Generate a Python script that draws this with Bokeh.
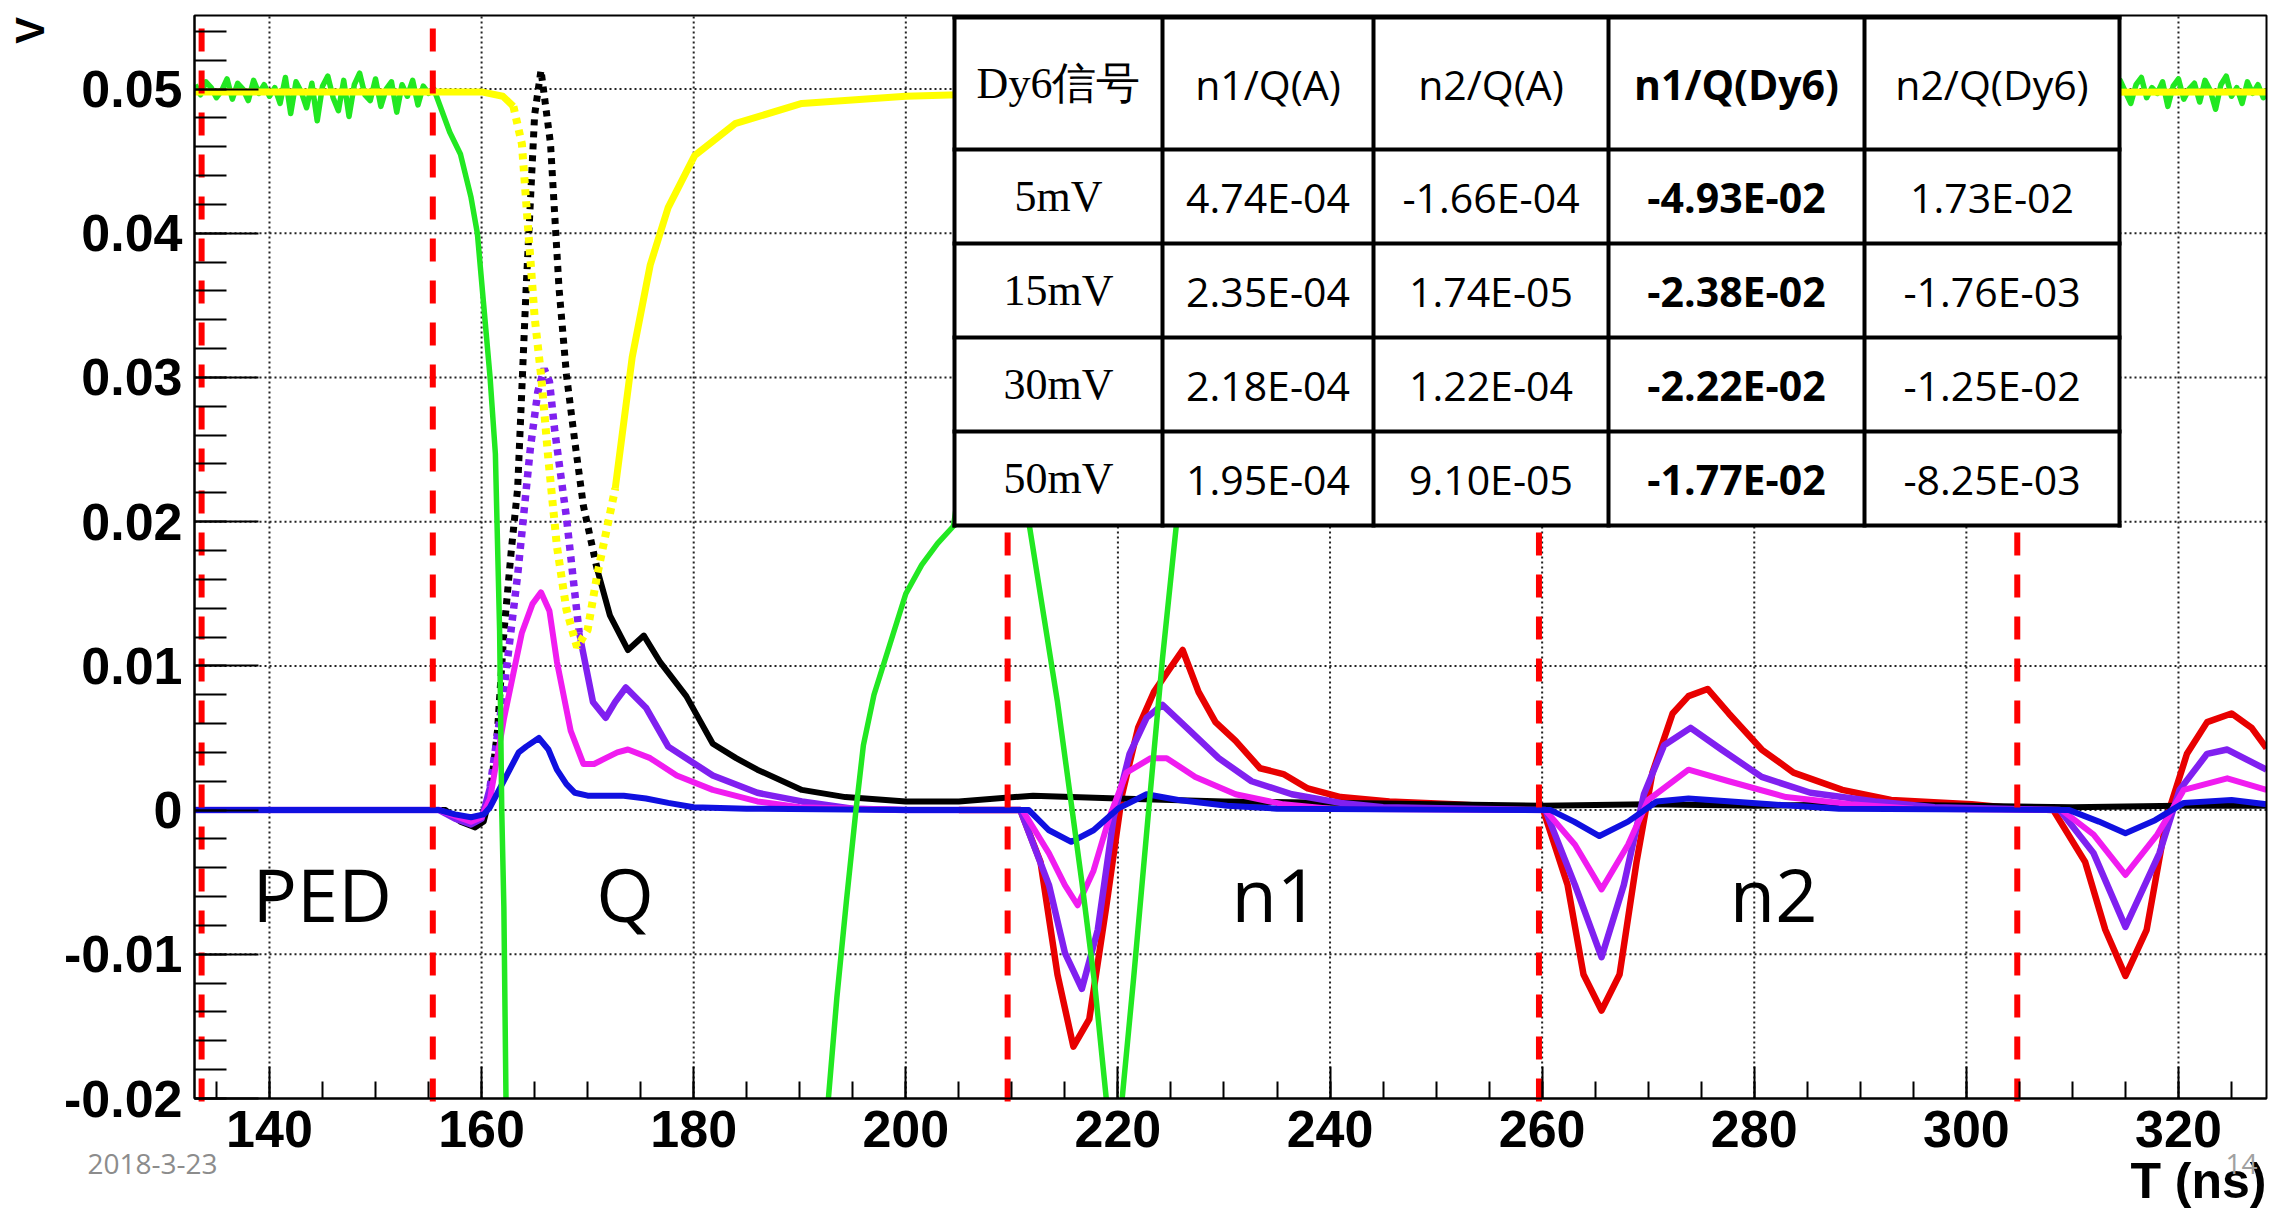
import numpy as np
from bokeh.plotting import figure
from bokeh.models import (Range1d, SingleIntervalTicker, CustomJSTickFormatter,
                          LinearAxis, ColumnDataSource)
from bokeh.core.properties import value
from bokeh.embed import file_html
from bokeh.resources import INLINE

# ------------------------------------------------------------------ data
black_x = [133, 156.6, 158.0, 159.4, 160.2, 160.8, 161.5, 162.1, 162.8, 163.4, 164.2, 165.0,
           165.6, 166.5, 167.3, 168.0, 168.8, 169.6, 170.9, 172.1, 173.8, 175.3, 176.8, 179.3,
           181.8, 184.0, 186.0, 190.2, 194.3, 200, 205, 212, 220, 230, 240, 250, 260, 270,
           280, 290, 300, 310, 320, 328.3]
black_y = [0, 0, -0.0008, -0.0012, -0.0008, 0.0010, 0.0055, 0.0123, 0.0180, 0.0223, 0.0362,
           0.0482, 0.0513, 0.0462, 0.0362, 0.0302, 0.0255, 0.0211, 0.0167, 0.0135, 0.0111,
           0.0121, 0.0103, 0.0079, 0.0046, 0.0036, 0.0028, 0.0014, 0.0009, 0.0006, 0.0006,
           0.0010, 0.0008, 0.0006, 0.0005, 0.0004, 0.0003, 0.0004, 0.0003, 0.0004, 0.0003,
           0.0002, 0.0003, 0.0003]

red_x = [205, 210.8, 212.7, 214.3, 215.8, 217.3, 218.9, 220.4, 221.9, 223.4, 224.6,
         226.1, 227.6, 229.2, 231.1, 233.4, 235.6, 237.9, 241.0, 245.6, 251.7, 259.3, 260.1,
         262.4, 263.9, 265.6, 267.3, 268.9, 270.4, 272.3, 273.8, 275.6, 277.6, 280.7, 283.7,
         288.3, 292.9, 300.5, 305, 308.2, 311.2, 313.1, 315.0, 317.0, 318.9, 320.8, 322.7,
         325.0, 326.9, 328.3]
red_y = [0, 0, -0.0036, -0.0114, -0.0164, -0.0145, -0.0067, 0.0011, 0.0057, 0.0082,
         0.0095, 0.0111, 0.0082, 0.0061, 0.0048, 0.0029, 0.0025, 0.0015, 0.0009, 0.0006,
         0.0004, 0.0001, 0, -0.0052, -0.0114, -0.0139, -0.0114, -0.0036, 0.0026, 0.0067,
         0.0079, 0.0084, 0.0067, 0.0042, 0.0026, 0.0014, 0.0007, 0.0004, 0.0001, 0, -0.0036,
         -0.0083, -0.0115, -0.0083, -0.0005, 0.0039, 0.0061, 0.0067, 0.0057, 0.0043]

purple_x = [133, 156, 157.5, 159, 160.0, 160.8, 162.1, 163.4, 164.6, 165.3, 165.9, 166.4,
            166.9, 168.0, 169.2, 170.5, 171.7, 172.6, 173.6, 175.5, 177.6, 181.8, 186.0,
            190.2, 195, 200, 210.8, 213.5, 215.0, 216.6, 218.1, 219.6, 221.1, 222.7, 224.2,
            226.5, 229.5, 232.6, 236.4, 241, 245, 260.3, 263.1, 265.6, 267.7, 269.6, 271.5,
            274.0, 276.9, 280.7, 285.3, 291.4, 297, 308.8, 312.0, 315.0, 318.2, 320.1, 322.7,
            324.6, 328.3]
purple_y = [0, 0, -0.0006, -0.0010, -0.0006, 0.0016, 0.0083, 0.0163, 0.0251, 0.0290, 0.0306,
            0.0297, 0.0263, 0.0203, 0.0123, 0.0075, 0.0064, 0.0075, 0.0085, 0.0071, 0.0044,
            0.0024, 0.0012, 0.0006, 0.0001, 0, 0, -0.0052, -0.0099, -0.0124, -0.0083,
            -0.0005, 0.0039, 0.0064, 0.0073, 0.0057, 0.0036, 0.0020, 0.0011, 0.0005, 0.0002,
            0, -0.0052, -0.0102, -0.0052, 0.0011, 0.0045, 0.0057, 0.0042, 0.0023, 0.0012,
            0.0006, 0.0002, 0, -0.0030, -0.0081, -0.0030, 0.0014, 0.0039, 0.0042, 0.0028]

magenta_x = [133, 156, 157.5, 159, 160.0, 160.8, 162.1, 163.0, 163.8, 164.8, 165.6, 166.4,
             167.1, 168.4, 169.6, 170.6, 171.7, 172.8, 173.8, 175.9, 178.4, 181.8, 186.0, 190,
             200, 211.0, 213.5, 215.0, 216.2, 217.7, 219.2, 220.8, 223.1, 224.6, 227.3, 231.1,
             235.6, 240, 260.3, 263.1, 265.6, 268.1, 270.0, 273.8, 277.6, 283.0, 289.1, 295,
             309, 312.0, 315.0, 318.0, 320.5, 324.6, 328.3]
magenta_y = [0, 0, -0.0004, -0.0008, -0.0005, 0.0008, 0.0063, 0.0095, 0.0123, 0.0143, 0.0151,
             0.0138, 0.0103, 0.0055, 0.0032, 0.0032, 0.0036, 0.0040, 0.0042, 0.0036, 0.0024,
             0.0014, 0.0006, 0.0002, 0, 0, -0.0030, -0.0052, -0.0066, -0.0042, -0.0005,
             0.0026, 0.0036, 0.0036, 0.0023, 0.0011, 0.0004, 0.0001, 0, -0.0024, -0.0055,
             -0.0024, 0.0007, 0.0028, 0.0020, 0.0009, 0.0004, 0.0001, 0, -0.0017, -0.0045,
             -0.0017, 0.0014, 0.0022, 0.0014]

blue_x = [133, 156, 157.5, 159, 160.2, 160.8, 161.5, 162.5, 163.5, 164.2, 165.4, 166.3,
          167.1, 168.0, 168.8, 170.0, 171.3, 173.4, 175.5, 177.6, 180, 185, 200, 211.6, 213.5,
          215.6, 217.7, 220.0, 222.7, 225.7, 230.3, 235, 260.8, 263.0, 265.4, 268.1, 270.8,
          273.8, 281.5, 288, 309.7, 312.5, 315.0, 317.8, 320.5, 325.0, 328.3]
blue_y = [0, 0, -0.0003, -0.0005, -0.0003, 0.0002, 0.0012, 0.0026, 0.0040, 0.0044, 0.0050,
          0.0042, 0.0028, 0.0018, 0.0012, 0.0010, 0.0010, 0.0010, 0.0008, 0.0005, 0.0002,
          0.0001, 0, 0, -0.0014, -0.0022, -0.0014, 0.0001, 0.0011, 0.0007, 0.0003, 0.0001,
          0, -0.0008, -0.0018, -0.0008, 0.0006, 0.0008, 0.0004, 0.0001, 0, -0.0008, -0.0016,
          -0.0007, 0.0005, 0.0007, 0.0004]

green_ped_x = [133.0, 133.5, 134.0, 134.5, 135.0, 135.5, 136.0, 136.5, 137.0, 137.5, 138.0,
               138.5, 139.0, 139.5, 140.0, 140.5, 141.0, 141.5, 142.0, 142.5, 143.0, 143.5,
               144.0, 144.5, 145.0, 145.5, 146.0, 146.5, 147.0, 147.5, 148.0, 148.5, 149.0,
               149.5, 150.0, 150.5, 151.0, 151.5, 152.0, 152.5, 153.0, 153.5, 154.0, 154.5,
               155.0, 155.5]
green_ped_y = [0.0503, 0.0496, 0.0505, 0.0501, 0.0494, 0.0499, 0.0507, 0.0493, 0.0504, 0.0500,
               0.0492, 0.0506, 0.0497, 0.0503, 0.0495, 0.0501, 0.0490, 0.0508, 0.0483, 0.0505,
               0.0498, 0.0487, 0.0504, 0.0478, 0.0502, 0.0509, 0.0494, 0.0485, 0.0506, 0.0481,
               0.0503, 0.0511, 0.0496, 0.0492, 0.0507, 0.0488, 0.0500, 0.0505, 0.0484, 0.0503,
               0.0495, 0.0506, 0.0489, 0.0502, 0.0497, 0.0500]
green_main_x = [156.0, 157.0, 158.0, 159.0, 159.6, 160.2, 160.8, 161.3, 161.7, 161.9, 162.1,
                162.3, 163.0, 178.0, 191.5, 192.7, 193.5, 194.4, 195.3, 196.0, 197.0, 198.5,
                200.0, 201.5, 203.0, 204.5, 206.5, 208.5, 210.5, 211.7, 213.0, 214.3, 215.5,
                216.6, 217.8, 218.9, 219.6, 220.4, 221.5, 222.9, 224.2, 225.5, 227.0, 232.0,
                312.5]
green_main_y = [0.0490, 0.0470, 0.0455, 0.0425, 0.0400, 0.0350, 0.0300, 0.0247, 0.0124, 0.0,
                -0.0067, -0.0200, -0.0400, -0.0800, -0.0280, -0.0200, -0.0130, -0.0063, 0.0,
                0.0045, 0.0080, 0.0115, 0.0150, 0.0170, 0.0185, 0.0197, 0.0300, 0.0300,
                0.0240, 0.0195, 0.0135, 0.0075, 0.0010, -0.0050, -0.0120, -0.0200, -0.0250,
                -0.0200, -0.0115, 0.0, 0.0105, 0.0197, 0.0320, 0.0500, 0.0500]
green_tail_x = [313.0, 313.5, 314.0, 314.5, 315.0, 315.5, 316.0, 316.5, 317.0, 317.5, 318.0,
                318.5, 319.0, 319.5, 320.0, 320.5, 321.0, 321.5, 322.0, 322.5, 323.0, 323.5,
                324.0, 324.5, 325.0, 325.5, 326.0, 326.5, 327.0, 327.5, 328.0, 328.3]
green_tail_y = [0.0500, 0.0504, 0.0495, 0.0506, 0.0498, 0.0490, 0.0503, 0.0508, 0.0494, 0.0501,
                0.0497, 0.0505, 0.0488, 0.0502, 0.0507, 0.0493, 0.0500, 0.0504, 0.0491, 0.0506,
                0.0499, 0.0486, 0.0503, 0.0509, 0.0495, 0.0501, 0.0490, 0.0505, 0.0497, 0.0503,
                0.0494, 0.0500]

yellow_x = [133, 160, 162.0, 163.0, 163.8, 164.4, 165.0, 165.6, 166.3, 167.1, 168.0, 169.0,
            170.0, 170.9, 172.6, 174.2, 175.9, 177.6, 180.1, 183.9, 190.2, 200, 210, 328.3]
yellow_y = [0.0498, 0.0498, 0.0495, 0.0488, 0.0462, 0.0402, 0.0342, 0.0302, 0.0243, 0.0183,
            0.0139, 0.0113, 0.0125, 0.0163, 0.0223, 0.0314, 0.0378, 0.0418, 0.0454, 0.0476,
            0.0490, 0.0495, 0.0497, 0.0498]

boundary_x = [133.6, 155.4, 209.6, 259.7, 304.8]
region_labels = ["PED", "Q", "n1", "n2"]
region_label_x = [138.4, 170.8, 230.7, 277.7]
region_label_y = -0.0058       # vertical centre of the capitals

grid_x = [140, 160, 180, 200, 220, 240, 260, 280, 300, 320]
grid_y = [-0.01, 0.0, 0.01, 0.02, 0.03, 0.04, 0.05]

table_header = ["Dy6信号", "n1/Q(A)", "n2/Q(A)", "n1/Q(Dy6)", "n2/Q(Dy6)"]
signal_amp = ["5mV", "15mV", "30mV", "50mV"]
n1_QA = ["4.74E-04", "2.35E-04", "2.18E-04", "1.95E-04"]
n2_QA = ["-1.66E-04", "1.74E-05", "1.22E-04", "9.10E-05"]
n1_QDy6 = ["-4.93E-02", "-2.38E-02", "-2.22E-02", "-1.77E-02"]
n2_QDy6 = ["1.73E-02", "-1.76E-03", "-1.25E-02", "-8.25E-03"]

x_title, y_title = "T (ns)", "V"
footer_date, footer_page = "2018-3-23", "14"

# ------------------------------------------------------------------ layout
W, H = 2270, 1208
X0, X1 = 132.93, 328.3          # plotted data window
Y0, Y1 = -0.02, 0.0551
BOX_L, BOX_R, BOX_T, BOX_B = 194, 2266, 15, 1098   # window position in pixels
SX = (BOX_R - BOX_L) / (X1 - X0)
SY = (BOX_B - BOX_T) / (Y1 - Y0)


def px2x(px):
    return X0 + (px - BOX_L) / SX


def px2y(py):
    return Y1 - (py - BOX_T) / SY


p = figure(width=W, height=H, title=None,
           x_range=Range1d(px2x(0), px2x(W)), y_range=Range1d(px2y(H), px2y(0)),
           x_axis_type=None, y_axis_type=None,
           output_backend="svg", toolbar_location=None,
           min_border=0, min_border_left=0, min_border_right=0,
           min_border_top=0, min_border_bottom=0)
p.background_fill_color = "white"
p.border_fill_color = "white"
p.outline_line_color = None

xt = SingleIntervalTicker(interval=20, num_minor_ticks=4)
yt = SingleIntervalTicker(interval=0.01, num_minor_ticks=5)
xa = LinearAxis(ticker=xt, fixed_location=Y0, bounds=(X0, X1))
ya = LinearAxis(ticker=yt, fixed_location=X0, bounds=(Y0, Y1),
                formatter=CustomJSTickFormatter(
                    code="return Math.abs(tick) < 1e-9 ? '0' : tick.toFixed(2);"))
for ax in (xa, ya):
    ax.axis_line_color = "black"
    ax.axis_line_width = 2
    ax.major_tick_line_color = "black"
    ax.minor_tick_line_color = "black"
    ax.major_tick_line_width = 2
    ax.minor_tick_line_width = 2
    ax.major_tick_out = 0
    ax.minor_tick_out = 0
    ax.major_label_text_font = "Liberation Sans"
    ax.major_label_text_font_style = "bold"
    ax.major_label_text_font_size = "52px"
    ax.major_label_text_color = "black"
ya.major_tick_in = 64
ya.minor_tick_in = 32
xa.major_tick_in = 32
xa.minor_tick_in = 17
ya.major_label_standoff = 12
xa.major_label_standoff = 12
p.add_layout(xa, "below")
p.add_layout(ya, "left")

# dotted grid
p.segment(x0=grid_x, y0=[Y0] * len(grid_x), x1=grid_x, y1=[Y1] * len(grid_x),
          line_color="#222222", line_width=2, line_dash="2 3")
p.segment(x0=[X0] * len(grid_y), y0=grid_y, x1=[X1] * len(grid_y), y1=grid_y,
          line_color="#222222", line_width=2, line_dash="2 3")


def draw(xs, ys, color, width, dash_range=None):
    """Solid line, with the steep part inside dash_range drawn dotted."""
    if dash_range is None:
        p.line(xs, ys, line_color=color, line_width=width, line_join="round")
        return
    a, b = dash_range
    i0 = max(i for i, v in enumerate(xs) if v <= a)
    i1 = min(i for i, v in enumerate(xs) if v >= b)
    p.line(xs[:i0 + 1], ys[:i0 + 1], line_color=color, line_width=width, line_join="round")
    p.line(xs[i0:i1 + 1], ys[i0:i1 + 1], line_color=color, line_width=width + 1,
           line_dash="6 6")
    p.line(xs[i1:], ys[i1:], line_color=color, line_width=width, line_join="round")


draw(red_x, red_y, "#e80000", 6.5)
draw(black_x, black_y, "black", 6, (160.8, 170.9))
draw(purple_x, purple_y, "#8020f0", 6.5, (160.8, 169.2))
draw(magenta_x, magenta_y, "#f01cf0", 6)
draw(blue_x, blue_y, "#1010e0", 6)
green_x = green_ped_x + green_main_x + green_tail_x
green_y = green_ped_y + green_main_y + green_tail_y
draw(green_x, green_y, "#22e822", 5.5)
draw(yellow_x, yellow_y, "#ffff00", 7, (163.0, 172.6))

# white masks so that the traces stop at the plot window
xl, xr = px2x(0), px2x(W)
yb, ytop = px2y(H), px2y(0)
p.quad(left=[xl, X1, xl, xl], right=[X0, xr, xr, xr],
       bottom=[yb, yb, yb, Y1], top=[ytop, ytop, Y0, ytop],
       fill_color="white", line_color=None)

# window frame
p.quad(left=X0, right=X1, bottom=Y0, top=Y1, fill_color=None,
       line_color="black", line_width=2)

# region boundaries
p.segment(x0=boundary_x, y0=[px2y(28)] * len(boundary_x), x1=boundary_x,
          y1=[px2y(1104)] * len(boundary_x), line_color="#ff0000", line_width=6,
          line_dash="23 19")

p.text(x=region_label_x, y=[region_label_y] * len(region_labels), text=region_labels,
       text_font=value("Open Sans"), text_font_size="74px", text_color="black",
       text_align="left", text_baseline="middle")

# ------------------------------------------------------------------ table
col_px = [954, 1162, 1373, 1608, 1864, 2119]
row_px = [17, 149, 243, 337, 431, 525]
cx = [px2x(v) for v in col_px]
ry = [px2y(v) for v in row_px]
p.quad(left=cx[0], right=cx[-1], top=ry[0], bottom=ry[-1], fill_color="white",
       line_color=None)
p.segment(x0=cx, y0=[ry[0]] * len(cx), x1=cx, y1=[ry[-1]] * len(cx),
          line_color="black", line_width=4, line_cap="square")
p.segment(x0=[cx[0]] * len(ry), y0=ry, x1=[cx[-1]] * len(ry), y1=ry,
          line_color="black", line_width=4, line_cap="square")

columns = [[table_header[0]] + signal_amp,
           [table_header[1]] + n1_QA,
           [table_header[2]] + n2_QA,
           [table_header[3]] + n1_QDy6,
           [table_header[4]] + n2_QDy6]
for j, col in enumerate(columns):
    xs = [(cx[j] + cx[j + 1]) / 2] * len(col)
    ys = [(ry[i] + ry[i + 1]) / 2 for i in range(len(col))]
    src = ColumnDataSource(dict(x=xs, y=ys, t=col))
    if j == 0:
        font, size, style = "Liberation Serif", "44px", "normal"
    else:
        font, size, style = "Open Sans", "41px", ("bold" if j == 3 else "normal")
    p.text(x="x", y="y", text="t", source=src, text_font=value(font),
           text_font_size=size, text_font_style=style, text_color="black",
           text_align="center", text_baseline="middle")

# ------------------------------------------------------------------ titles / footer
p.text(x=[px2x(29)], y=[px2y(30)], text=[y_title], angle=np.pi / 2,
       text_font=value("Liberation Sans"), text_font_style="bold",
       text_font_size="40px", text_align="center", text_baseline="middle",
       text_color="black")
p.text(x=[px2x(2266)], y=[px2y(1180)], text=[x_title],
       text_font=value("Liberation Sans"), text_font_style="bold",
       text_font_size="50px", text_align="right", text_baseline="middle",
       text_color="black")
p.text(x=[px2x(87)], y=[px2y(1163)], text=[footer_date],
       text_font=value("Open Sans"), text_font_size="28px", text_align="left",
       text_baseline="middle", text_color="#8c8c8c")
p.text(x=[px2x(2225)], y=[px2y(1163)], text=[footer_page],
       text_font=value("Open Sans"), text_font_size="28px", text_align="left",
       text_baseline="middle", text_color="#a0a0a0")

open("out.html", "w").write(file_html(p, INLINE))
